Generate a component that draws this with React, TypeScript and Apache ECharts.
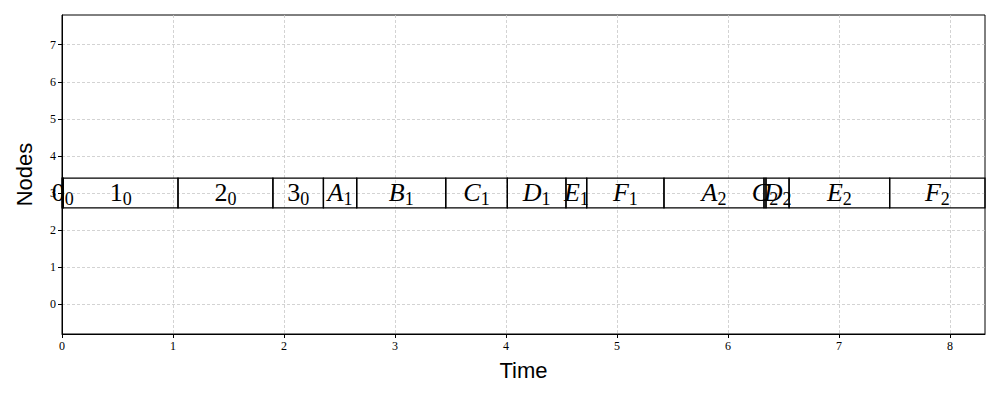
import React, { useEffect, useRef } from "react";
import * as echarts from "echarts";

const taskNames = ["0", "1", "2", "3", "A", "B", "C", "D", "E", "F", "A", "C", "D", "E", "F"];
const taskSubs = ["0", "0", "0", "0", "1", "1", "1", "1", "1", "1", "2", "2", "2", "2", "2"];
const taskStarts = [0, 0.012, 1.045, 1.9, 2.355, 2.655, 3.457, 4.012, 4.54, 4.727, 5.423, 6.324, 6.342, 6.55, 7.456];
const taskEnds = [0.012, 1.045, 1.9, 2.355, 2.655, 3.457, 4.012, 4.54, 4.727, 5.423, 6.324, 6.342, 6.55, 7.456, 8.315];
const nodeRow = 3;
const xTicks = [0, 1, 2, 3, 4, 5, 6, 7, 8];
const yTicks = [0, 1, 2, 3, 4, 5, 6, 7];

const serif = "Liberation Serif";
const mainSize = 26;
const subSize = 18;

let measureCtx: CanvasRenderingContext2D | null = null;
function measure(text: string, font: string): number {
  if (!measureCtx) measureCtx = document.createElement("canvas").getContext("2d");
  if (!measureCtx) return text.length * 10;
  measureCtx.font = font;
  return measureCtx.measureText(text).width;
}

export default function App() {
  const ref = useRef<HTMLDivElement>(null);
  useEffect(() => {
    const chart = echarts.init(ref.current!, null, { renderer: "svg" });
    const data = taskStarts.map((s, i) => [s, taskEnds[i], i]);
    chart.setOption({
      animation: false,
      grid: {
        left: 62, right: 15, top: 15, bottom: 66,
        show: true, borderColor: "#000", borderWidth: 1, backgroundColor: "transparent",
      },
      xAxis: {
        type: "value", min: 0, max: 8.315,
        name: "Time", nameLocation: "middle", nameGap: 25,
        nameTextStyle: { fontFamily: "Liberation Sans", fontSize: 22, color: "#000" },
        axisLine: { show: true, onZero: false, lineStyle: { color: "#000", width: 1 } },
        axisTick: { show: true, length: 4, lineStyle: { color: "#000" }, customValues: xTicks },
        axisLabel: { fontFamily: serif, fontSize: 12, color: "#000", margin: 6, customValues: xTicks },
        splitLine: { show: true, lineStyle: { color: "#c8c8c8", type: [3, 2], width: 0.8 } },
      },
      yAxis: {
        type: "value", min: -0.8, max: 7.8,
        name: "Nodes", nameLocation: "middle", nameGap: 27, nameRotate: 90,
        nameTextStyle: { fontFamily: "Liberation Sans", fontSize: 22, color: "#000" },
        axisLine: { show: true, onZero: false, lineStyle: { color: "#000", width: 1 } },
        axisTick: { show: true, length: 4, lineStyle: { color: "#000" }, customValues: yTicks },
        axisLabel: { fontFamily: serif, fontSize: 12, color: "#000", margin: 6, customValues: yTicks },
        splitLine: { show: true, lineStyle: { color: "#c8c8c8", type: [3, 2], width: 0.8 } },
      },
      series: [
        {
          type: "custom",
          clip: false,
          data,
          encode: { x: [0, 1] },
          renderItem: (params: any, api: any) => {
            const s = api.value(0);
            const e = api.value(1);
            const i = api.value(2);
            const p0 = api.coord([s, nodeRow + 0.4]);
            const p1 = api.coord([e, nodeRow - 0.4]);
            const name = taskNames[i];
            const sub = taskSubs[i];
            const isLetter = /[A-Za-z]/.test(name);
            const mainFont = `${isLetter ? "italic " : ""}${mainSize}px "${serif}"`;
            const subFont = `${subSize}px "${serif}"`;
            const wm = measure(name, mainFont);
            const ws = measure(sub, subFont);
            const cx = (p0[0] + p1[0]) / 2;
            const cy = (p0[1] + p1[1]) / 2;
            const left = cx - (wm + ws) / 2;
            return {
              type: "group",
              children: [
                {
                  type: "rect",
                  shape: { x: p0[0], y: p0[1], width: p1[0] - p0[0], height: p1[1] - p0[1] },
                  style: { fill: "none", stroke: "#000", lineWidth: 1.3 },
                },
                {
                  type: "text",
                  style: {
                    x: left, y: cy - 1, align: "left", verticalAlign: "middle",
                    text: name, fontFamily: serif, fontSize: mainSize,
                    fontStyle: isLetter ? "italic" : "normal", fill: "#000",
                  },
                },
                {
                  type: "text",
                  style: {
                    x: left + wm, y: cy + 6, align: "left", verticalAlign: "middle",
                    text: sub, fontFamily: serif, fontSize: subSize, fill: "#000",
                  },
                },
              ],
            };
          },
        },
      ],
    });
    return () => chart.dispose();
  }, []);
  return <div ref={ref} style={{ width: 1000, height: 400, position: "absolute", left: 0, top: 0 }} />;
}
